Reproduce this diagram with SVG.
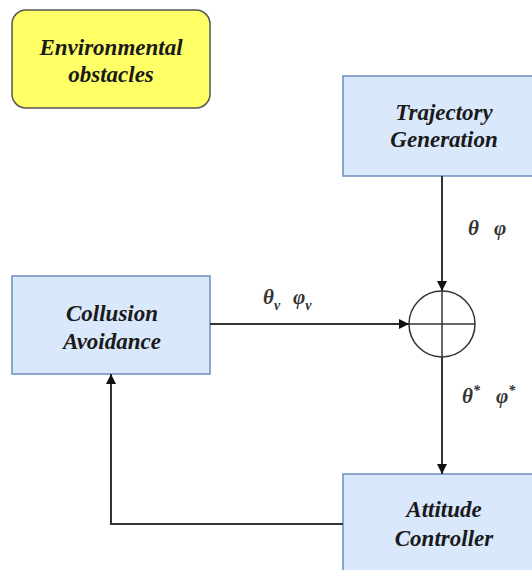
<svg xmlns="http://www.w3.org/2000/svg" width="532" height="570" viewBox="0 0 532 570">
<style>
.blk{fill:#dae8fc;stroke:#6c8ebf;stroke-width:1.5}
.lbl{font-family:"Liberation Serif","Times New Roman",serif;font-style:italic;font-weight:bold;font-size:23px;fill:#1a1a1a;text-anchor:middle}
.math{font-family:"Liberation Serif","Times New Roman",serif;font-style:italic;font-weight:bold;font-size:21px;fill:#333}
.sub{font-size:14px}
.ln{fill:none;stroke:#333;stroke-width:2}
</style>
<defs>
<marker id="ah" viewBox="0 0 10 10" refX="10" refY="5" markerWidth="10" markerHeight="10" markerUnits="userSpaceOnUse" orient="auto">
<path d="M0,0 L10,5 L0,10 Z" fill="#111"/>
</marker>
</defs>
<rect width="532" height="570" fill="#fff"/>
<g id="env">
<rect x="12" y="10" width="198" height="98" rx="14" fill="#ffff66" stroke="#555" stroke-width="1.5"/>
<text class="lbl" x="111" y="55">Environmental</text>
<text class="lbl" x="111" y="82">obstacles</text>
</g>
<g id="traj">
<rect class="blk" x="343" y="76" width="200" height="100"/>
<text class="lbl" x="444" y="120">Trajectory</text>
<text class="lbl" x="444" y="147">Generation</text>
</g>
<g id="coll">
<rect class="blk" x="12" y="276" width="198" height="98"/>
<text class="lbl" x="112" y="321">Collusion</text>
<text class="lbl" x="112" y="349">Avoidance</text>
</g>
<g id="att">
<rect class="blk" x="343" y="474" width="200" height="100"/>
<text class="lbl" x="444" y="517">Attitude</text>
<text class="lbl" x="444" y="546">Controller</text>
</g>
<g id="sum">
<circle cx="442" cy="324" r="33" fill="#fff" stroke="#333" stroke-width="1.5"/>
<line x1="442" y1="291" x2="442" y2="357" stroke="#333" stroke-width="1.5"/>
<line x1="409" y1="324" x2="475" y2="324" stroke="#333" stroke-width="1.5"/>
</g>
<g id="connectors">
<line class="ln" x1="442" y1="176" x2="442" y2="291" marker-end="url(#ah)"/>
<line class="ln" x1="210" y1="324" x2="409" y2="324" marker-end="url(#ah)"/>
<line class="ln" x1="442" y1="357" x2="442" y2="474" marker-end="url(#ah)"/>
<polyline class="ln" points="343,524 111,524 111,374" marker-end="url(#ah)"/>
<text class="math" x="468" y="235">θ</text>
<text class="math" x="494" y="235">φ</text>
<text class="math" x="263" y="304">θ<tspan class="sub" dy="6">v</tspan></text>
<text class="math" x="293" y="304">φ<tspan class="sub" dy="6">v</tspan></text>
<text class="math" x="462" y="403">θ<tspan class="sub" dy="-8">*</tspan></text>
<text class="math" x="496" y="403">φ<tspan class="sub" dy="-8">*</tspan></text>
</g>
</svg>
